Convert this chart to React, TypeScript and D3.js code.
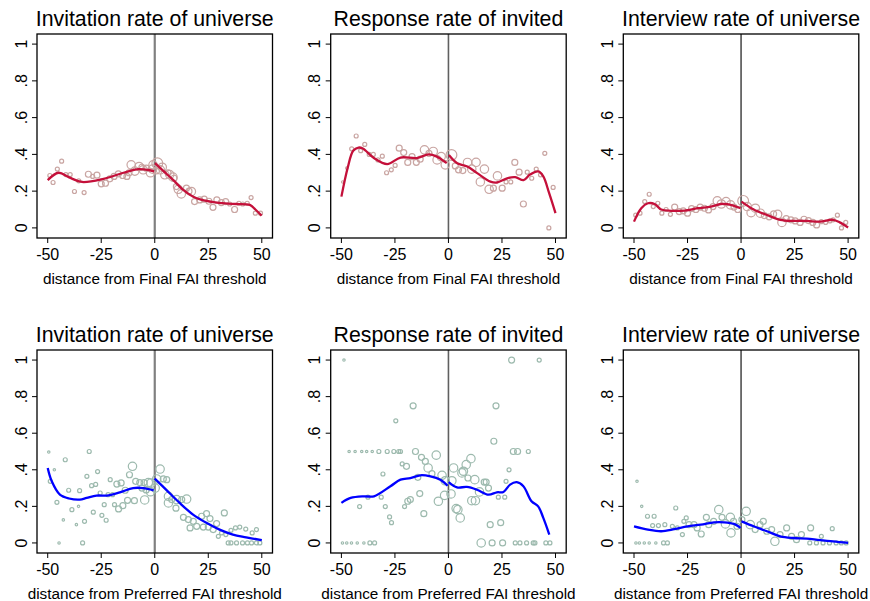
import * as d3 from "d3";

// scatter points: [distance, rate, size class 1..5]
const invFinalPts: [number, number, number][] = [
  [-49, 0.285, 2], [-47.5, 0.247, 2], [-45.5, 0.32, 2], [-43.5, 0.363, 2], [-41.5, 0.29, 2],
  [-39.5, 0.29, 2], [-37.5, 0.198, 2], [-35.5, 0.256, 2], [-33, 0.192, 2], [-31, 0.292, 3],
  [-29, 0.28, 2], [-27, 0.287, 3], [-25, 0.24, 3], [-23, 0.243, 3], [-21, 0.267, 3],
  [-19, 0.28, 3], [-17, 0.294, 3], [-15, 0.285, 3], [-13, 0.28, 3], [-12, 0.3, 3],
  [-11, 0.343, 4], [-9.3, 0.309, 4], [-7.3, 0.334, 4], [-6, 0.33, 3], [-5.4, 0.316, 4],
  [-3.9, 0.325, 3], [-2, 0.3, 4], [-1, 0.32, 4], [-0.8, 0.343, 4],
  [0.8, 0.31, 3], [1.2, 0.352, 5], [2.6, 0.316, 4], [3.5, 0.33, 4], [4.7, 0.289, 4],
  [6.2, 0.3, 3], [7, 0.29, 4], [8.5, 0.276, 4], [9, 0.27, 3], [10.1, 0.225, 3],
  [11, 0.21, 4], [12.4, 0.185, 4], [14.8, 0.216, 3], [16, 0.2, 3], [17.1, 0.198, 4],
  [18.6, 0.143, 3], [21, 0.152, 3], [23.1, 0.156, 3], [25.3, 0.145, 3], [27.2, 0.112, 3],
  [29, 0.152, 3], [31.1, 0.138, 3], [33.1, 0.143, 3], [35, 0.13, 2], [37.3, 0.1, 3],
  [39.3, 0.134, 2], [41.1, 0.13, 2], [43.2, 0.134, 2], [45, 0.165, 2], [47, 0.08, 2],
  [49.4, 0.08, 2],
];
const invFinalFitL: [number, number][] = [
  [-50, 0.26], [-44.9, 0.3], [-40, 0.275], [-34, 0.25], [-23.9, 0.267], [-14.6, 0.3],
  [-7.6, 0.32], [-3, 0.315], [-0.3, 0.307],
];
const invFinalFitR: [number, number][] = [
  [0.1, 0.352], [4, 0.31], [8.7, 0.26], [13, 0.21], [18, 0.17], [22, 0.152], [27.4, 0.14],
  [33, 0.133], [38.2, 0.13], [44.4, 0.125], [47, 0.1], [49.9, 0.067],
];

const respFinalPts: [number, number, number][] = [
  [-49.4, 0.25, 1], [-47.5, 0.325, 1], [-45.2, 0.43, 2], [-43.1, 0.5, 2], [-41, 0.42, 2],
  [-39.1, 0.454, 2], [-37, 0.4, 2], [-35.1, 0.4, 2], [-32.9, 0.37, 2], [-30.9, 0.39, 2],
  [-28.9, 0.3, 2], [-26.7, 0.316, 2], [-24.9, 0.34, 2], [-23, 0.434, 3], [-20.9, 0.41, 3],
  [-19, 0.356, 3], [-17, 0.388, 3], [-15, 0.357, 3], [-13.2, 0.374, 3], [-11.2, 0.425, 4],
  [-9.1, 0.406, 3], [-7.1, 0.416, 4], [-5.3, 0.37, 4], [-3.4, 0.388, 4], [-1.5, 0.343, 4],
  [1.4, 0.397, 5], [3.2, 0.337, 3], [4.7, 0.316, 3], [6.7, 0.312, 3], [8.9, 0.356, 4],
  [10.9, 0.32, 4], [12.9, 0.357, 4], [14.9, 0.25, 4], [16.8, 0.32, 4], [19, 0.21, 4],
  [21, 0.216, 3], [22.9, 0.283, 4], [25.1, 0.216, 3], [26.9, 0.25, 2], [29.1, 0.25, 2],
  [31, 0.356, 3], [33, 0.303, 3], [35, 0.13, 3], [36.8, 0.303, 2], [38.9, 0.27, 2],
  [41, 0.32, 2], [43, 0.289, 2], [45, 0.406, 2], [46.9, 0, 2], [48.9, 0.22, 2],
];
const respFinalFitL: [number, number][] = [
  [-50, 0.17], [-47, 0.33], [-44.5, 0.42], [-42, 0.437], [-40, 0.432], [-34.8, 0.38],
  [-28.6, 0.347], [-22.4, 0.383], [-14.7, 0.38], [-9.3, 0.4], [-5.4, 0.388], [-0.8, 0.352],
];
const respFinalFitR: [number, number][] = [
  [0.2, 0.397], [4.1, 0.352], [8.8, 0.334], [13.4, 0.298], [19.6, 0.252], [22.7, 0.247],
  [27.4, 0.27], [31.2, 0.276], [35.1, 0.26], [38.1, 0.29], [42, 0.307], [44.3, 0.28],
  [47, 0.19], [50, 0.08],
];

const intFinalPts: [number, number, number][] = [
  [-49.2, 0.07, 2], [-47.2, 0.08, 2], [-45, 0.143, 2], [-42.9, 0.183, 2], [-41, 0.116, 2],
  [-38.9, 0.134, 2], [-37, 0.08, 2], [-35, 0.1, 2], [-33, 0.074, 2], [-31, 0.113, 3],
  [-28.9, 0.089, 3], [-27, 0.093, 3], [-25, 0.08, 3], [-23.1, 0.105, 3], [-21.1, 0.1, 3],
  [-19.1, 0.113, 3], [-17.1, 0.107, 3], [-15.2, 0.098, 3], [-13.1, 0.116, 3], [-11.1, 0.147, 4],
  [-9.2, 0.13, 4], [-7, 0.143, 4], [-4.9, 0.125, 4], [-3.3, 0.113, 3], [-1.5, 0.1, 3],
  [1, 0.147, 5], [2.9, 0.116, 4], [4.7, 0.083, 4], [6.7, 0.107, 4], [9, 0.08, 4],
  [10.9, 0.067, 3], [13.1, 0.06, 3], [15.2, 0.076, 3], [17.1, 0.074, 4], [19.1, 0.03, 4],
  [21.1, 0.05, 3], [23.3, 0.044, 3], [25.3, 0.038, 3], [27.6, 0.03, 3], [29.4, 0.047, 3],
  [31.5, 0.04, 3], [33.5, 0.03, 3], [35.3, 0.016, 3], [37.5, 0.034, 2], [39.5, 0.03, 2],
  [41.5, 0.038, 2], [43, 0.044, 2], [45, 0.069, 2], [46.9, 0, 2], [48.9, 0.03, 2],
];
const intFinalFitL: [number, number][] = [
  [-50, 0.034], [-46.6, 0.107], [-43.5, 0.134], [-40.4, 0.13], [-37.3, 0.1], [-32.7, 0.093],
  [-26.5, 0.094], [-20.3, 0.107], [-14.1, 0.116], [-9.5, 0.13], [-6.4, 0.129], [-0.2, 0.107],
];
const intFinalFitR: [number, number][] = [
  [0.2, 0.143], [5.9, 0.1], [12.1, 0.07], [18.3, 0.044], [24.5, 0.038], [30.7, 0.038],
  [36.9, 0.034], [43, 0.044], [46.1, 0.03], [50, 0.002],
];

const invPrefPts: [number, number, number][] = [
  [-49.5, 0.497, 1], [-30.6, 0.5, 2], [-41.8, 0.455, 2], [-46.9, 0.4, 1], [-26.7, 0.39, 2],
  [-31.7, 0.364, 2], [-48.8, 0.337, 2], [-29.5, 0.313, 2], [-27.6, 0.32, 2], [-20.8, 0.346, 2],
  [-17.7, 0.322, 3], [-15.7, 0.328, 3], [-10.4, 0.419, 4], [-11.8, 0.373, 3], [-8.9, 0.337, 3],
  [-7, 0.33, 3], [-5, 0.33, 3], [-3, 0.33, 4], [-6, 0.3, 3], [-4, 0.29, 3], [-2, 0.28, 4],
  [-9.5, 0.231, 3], [-4.7, 0.235, 4], [-12.7, 0.233, 3], [-14.9, 0.204, 3], [-16.9, 0.186, 3],
  [-18.8, 0.209, 2], [-23.6, 0.209, 2], [-28.7, 0.168, 2], [-24.7, 0.151, 2], [-22.7, 0.124, 2],
  [-32.8, 0.118, 2], [-36.6, 0.1, 1], [-42.7, 0.126, 1], [-38.7, 0.182, 2], [-35.6, 0.2, 1],
  [-45.7, 0.222, 2], [-44.7, 0, 1], [-33.7, 0, 2], [-40.2, 0.288, 2], [-35.1, 0.286, 2],
  [-25.5, 0.273, 2], [-21.8, 0.264, 2], [-19.7, 0.264, 2], [-13.8, 0.288, 3],
  [2.5, 0.404, 4], [0.9, 0.35, 4], [4, 0.35, 3], [5.6, 0.346, 3], [-1.7, 0.328, 4],
  [0.2, 0.3, 4], [6.4, 0.255, 4], [7.9, 0.237, 3], [10.2, 0.237, 4], [12.6, 0.237, 3],
  [14.9, 0.24, 4], [6.4, 0.219, 4], [9.9, 0.19, 3], [13.4, 0.14, 3], [15.7, 0.128, 3],
  [16.5, 0.082, 3], [18, 0.118, 3], [19.6, 0.091, 3], [21.9, 0.146, 3], [24.2, 0.16, 3],
  [25.8, 0.133, 3], [28.9, 0.106, 3], [32.5, 0.164, 3], [22.7, 0.087, 3], [25, 0.087, 3],
  [27.3, 0.073, 3], [29.7, 0.036, 2], [31.2, 0.055, 2], [33.2, 0.046, 2], [35.6, 0.069, 2],
  [37.7, 0.082, 2], [39.7, 0.087, 2], [42.5, 0.076, 2], [45.5, 0.055, 2], [47.5, 0.073, 2],
  [34.3, 0, 2], [35.6, 0, 2], [38.2, 0, 2], [41, 0, 2], [43.3, 0, 2], [45.2, 0, 2],
  [47.5, 0, 2], [49.1, 0, 2],
];
const invPrefFitL: [number, number][] = [
  [-50, 0.41], [-48.1, 0.337], [-44.3, 0.264], [-40, 0.243], [-35, 0.237], [-31.8, 0.246],
  [-27.2, 0.259], [-22.5, 0.259], [-16.3, 0.277], [-10.1, 0.3], [-5.4, 0.3], [-0.5, 0.288],
];
const invPrefFitR: [number, number][] = [
  [0, 0.352], [5.4, 0.29], [11.6, 0.219], [17.9, 0.155], [24.1, 0.11], [30.3, 0.073],
  [36.5, 0.046], [42.7, 0.031], [50, 0.015],
];

const respPrefPts: [number, number, number][] = [
  [-48.8, 1, 1], [29.5, 1, 3], [42.4, 1, 2], [-16.5, 0.75, 3], [22.2, 0.75, 3],
  [-24.6, 0.668, 2], [21.2, 0.556, 3],
  [-46.4, 0.5, 1], [-43.6, 0.5, 1], [-40.5, 0.5, 1], [-38.2, 0.5, 1], [-35.6, 0.5, 1],
  [-32.5, 0.5, 2], [-28.6, 0.5, 2], [-25.5, 0.5, 2], [-23.2, 0.5, 2], [-22.4, 0.5, 2],
  [-15.4, 0.5, 3], [-5.7, 0.48, 4], [30.3, 0.5, 3], [32.3, 0.5, 3], [37.3, 0.5, 2],
  [-12.6, 0.468, 3], [-21.6, 0.432, 2], [-19.6, 0.419, 3], [-10.8, 0.446, 3], [-9.5, 0.41, 4],
  [-7.7, 0.379, 3], [10.5, 0.461, 4], [8.3, 0.428, 4], [7, 0.392, 4], [6.3, 0.383, 4],
  [2.4, 0.41, 4], [-30.6, 0.377, 2], [-14.3, 0.359, 3], [-3, 0.37, 4], [-1.5, 0.34, 4],
  [1.6, 0.34, 4], [9.1, 0.355, 3], [12.3, 0.346, 4], [16.7, 0.333, 3], [17.6, 0.333, 3],
  [28.3, 0.4, 2], [26.9, 0.337, 2], [18.7, 0.3, 3], [14.5, 0.279, 4], [23.3, 0.25, 2],
  [26.3, 0.25, 2], [-13.4, 0.27, 3], [-4.7, 0.228, 4], [-1.8, 0.26, 4], [1.2, 0.268, 4],
  [10.9, 0.231, 4], [12.6, 0.231, 4], [-17.8, 0.237, 3], [-19, 0.228, 3], [-20.5, 0.199, 2],
  [-31.4, 0.25, 2], [-37.6, 0.25, 2], [-41.5, 0.199, 2], [-29.5, 0.199, 2], [-27.5, 0.142, 2],
  [-26.6, 0.111, 2], [-11.5, 0.16, 3], [3.6, 0.188, 4], [4.4, 0.182, 4], [5.5, 0.137, 4],
  [19.5, 0.1, 3], [24.4, 0.111, 3],
  [-49.5, 0, 1], [-47.5, 0, 1], [-45.3, 0, 1], [-42.6, 0, 1], [-39.5, 0, 1], [-36.7, 0, 2],
  [-34.5, 0, 2], [15.3, 0, 4], [20.4, 0, 3], [25.3, 0, 3], [31.2, 0, 2], [33.4, 0, 2],
  [36.5, 0, 2], [39.6, 0, 2], [40.4, 0, 2], [45.5, 0, 2], [47.4, 0, 2],
];
const respPrefFitL: [number, number][] = [
  [-50, 0.219], [-45.7, 0.246], [-39.5, 0.255], [-34.8, 0.255], [-27.1, 0.31],
  [-22.4, 0.346], [-17.8, 0.355], [-13.1, 0.37], [-8.4, 0.364], [-3.8, 0.346], [-0.4, 0.313],
];
const respPrefFitR: [number, number][] = [
  [0.1, 0.333], [4, 0.304], [8.6, 0.306], [13.3, 0.291], [18.7, 0.264], [22.6, 0.277],
  [25.7, 0.279], [28.8, 0.319], [31.9, 0.332], [35, 0.31], [38.8, 0.228], [41.9, 0.2],
  [44.3, 0.137], [47.1, 0.046],
];

const intPrefPts: [number, number, number][] = [
  [-48.6, 0.337, 1], [-46.4, 0.2, 1], [-43.7, 0.146, 2], [-40.6, 0.146, 2], [-41.3, 0.095, 2],
  [-38.6, 0.095, 2], [-35.6, 0.1, 2], [-30.5, 0.191, 2], [-25.6, 0.137, 2], [-32.1, 0.091, 2],
  [-29.8, 0.082, 2], [-27.4, 0.046, 2], [-26.7, 0.118, 2], [-24.3, 0.1, 3], [-22, 0.1, 3],
  [-20.5, 0.082, 3], [-18.6, 0.049, 3], [-16.2, 0.14, 3], [-15.1, 0.1, 3], [-12.8, 0.118, 3],
  [-10.4, 0.182, 4], [-8.9, 0.14, 3], [-7.3, 0.104, 4], [-5, 0.14, 4], [-4.7, 0.055, 4],
  [-3.5, 0.118, 3], [-1.9, 0.091, 3], [0.4, 0.128, 3], [2.4, 0.173, 4], [4.3, 0.1, 4],
  [6.6, 0.073, 3], [8.9, 0.1, 3], [10.4, 0.118, 3], [12, 0.064, 3], [14.3, 0.073, 3],
  [15.8, 0.009, 4], [18.2, 0.046, 3], [21.3, 0.082, 3], [23.6, 0.036, 3], [25.9, 0.018, 3],
  [28.2, 0.046, 3], [32.5, 0.082, 3], [37.5, 0.036, 2], [42.6, 0.078, 2],
  [32.1, 0, 2], [35.2, 0, 2], [38.3, 0, 2], [41.3, 0, 2], [44.4, 0, 2], [46.8, 0, 2], [49.1, 0, 2],
  [-49.1, 0, 1], [-47.5, 0, 1], [-45.2, 0, 1], [-42.9, 0, 1], [-39.8, 0, 1], [-36.2, 0, 2],
  [-34.4, 0, 2],
];
const intPrefFitL: [number, number][] = [
  [-50, 0.091], [-43.5, 0.073], [-37.3, 0.064], [-31.1, 0.076], [-25, 0.091], [-18.8, 0.1],
  [-12.6, 0.113], [-7.9, 0.113], [-3.3, 0.104], [-0.2, 0.082],
];
const intPrefFitR: [number, number][] = [
  [0.2, 0.118], [5.9, 0.091], [12.1, 0.064], [18.3, 0.036], [24.5, 0.027], [30.7, 0.024],
  [36.9, 0.015], [43, 0.009], [50, 0],
];

const titles = ["Invitation rate of universe", "Response rate of invited", "Interview rate of universe"];
const xLabels = ["distance from Final FAI threshold", "distance from Preferred FAI threshold"];
const xTicks = [-50, -25, 0, 25, 50];
const yTicks = [0, 0.2, 0.4, 0.6, 0.8, 1];

const FONT = "Arial, 'Liberation Sans', Helvetica, sans-serif";
const colLefts = [37, 330.7, 623.3];
const boxW = 235.5;
const rows = [
  { top: 34, bottom: 238, pts: "#c9a5a2", fit: "#c4103a" },
  { top: 350, bottom: 553, pts: "#9dbaae", fit: "#0000ff" },
];
const zeroLine = [
  { color: "#808080", w: 2.2 },
  { color: "#606060", w: 1.6 },
  { color: "#000000", w: 1.1 },
];
const radius = [0, 1.2, 2, 3, 4.2, 5.4];

const panels = [
  [invFinalPts, invFinalFitL, invFinalFitR],
  [respFinalPts, respFinalFitL, respFinalFitR],
  [intFinalPts, intFinalFitL, intFinalFitR],
  [invPrefPts, invPrefFitL, invPrefFitR],
  [respPrefPts, respPrefFitL, respPrefFitR],
  [intPrefPts, intPrefFitL, intPrefFitR],
] as const;

function fmtY(v: number) {
  if (v === 0) return "0";
  if (v === 1) return "1";
  return d3.format(".1f")(v).replace(/^0/, "");
}

function Panel({ idx }: { idx: number }) {
  const r = Math.floor(idx / 3);
  const c = idx % 3;
  const row = rows[r];
  const left = colLefts[c];
  const [pts, fitL, fitR] = panels[idx];
  const x = d3.scaleLinear().domain([-55, 55]).range([left, left + boxW]);
  const y = d3.scaleLinear().domain([-0.055, 1.055]).range([row.bottom, row.top]);
  const line = d3
    .line<[number, number]>()
    .x((d) => x(d[0]))
    .y((d) => y(d[1]))
    .curve(d3.curveCatmullRom.alpha(0.5));
  const z = zeroLine[c];
  return (
    <g>
      <text
        x={left + boxW / 2}
        y={row.top - 8}
        textAnchor="middle"
        fontSize={21.3}
        fill="#000"
      >
        {titles[c]}
      </text>
      <line x1={x(0)} x2={x(0)} y1={row.top} y2={row.bottom} stroke={z.color} strokeWidth={z.w} />
      {pts.map((p, i) => (
        <circle
          key={i}
          cx={x(p[0])}
          cy={y(p[1])}
          r={radius[p[2]]}
          fill="none"
          stroke={row.pts}
          strokeWidth={1.2}
        />
      ))}
      <path d={line(fitL as [number, number][]) ?? ""} fill="none" stroke={row.fit} strokeWidth={2.3} />
      <path d={line(fitR as [number, number][]) ?? ""} fill="none" stroke={row.fit} strokeWidth={2.3} />
      <rect
        x={left}
        y={row.top}
        width={boxW}
        height={row.bottom - row.top}
        fill="none"
        stroke="#000"
        strokeWidth={1.3}
      />
      {yTicks.map((t) => (
        <g key={t}>
          <line x1={left - 5} x2={left} y1={y(t)} y2={y(t)} stroke="#000" strokeWidth={1} />
          <text
            transform={`translate(${left - 10.5},${y(t)}) rotate(-90)`}
            textAnchor="middle"
            fontSize={16}
          >
            {fmtY(t)}
          </text>
        </g>
      ))}
      {xTicks.map((t) => (
        <g key={t}>
          <line x1={x(t)} x2={x(t)} y1={row.bottom} y2={row.bottom + 5} stroke="#000" strokeWidth={1} />
          <text x={x(t)} y={row.bottom + 22} textAnchor="middle" fontSize={16}>
            {t}
          </text>
        </g>
      ))}
      <text x={left + boxW / 2} y={row.bottom + 46} textAnchor="middle" fontSize={15.3}>
        {xLabels[r]}
      </text>
    </g>
  );
}

export default function App() {
  return (
    <svg
      width={870}
      height={601}
      viewBox="0 0 870 601"
      style={{ position: "absolute", left: 0, top: 0, background: "#fff" }}
      fontFamily={FONT}
    >
      <rect width={870} height={601} fill="#fff" />
      {d3.range(6).map((i) => (
        <Panel key={i} idx={i} />
      ))}
    </svg>
  );
}
